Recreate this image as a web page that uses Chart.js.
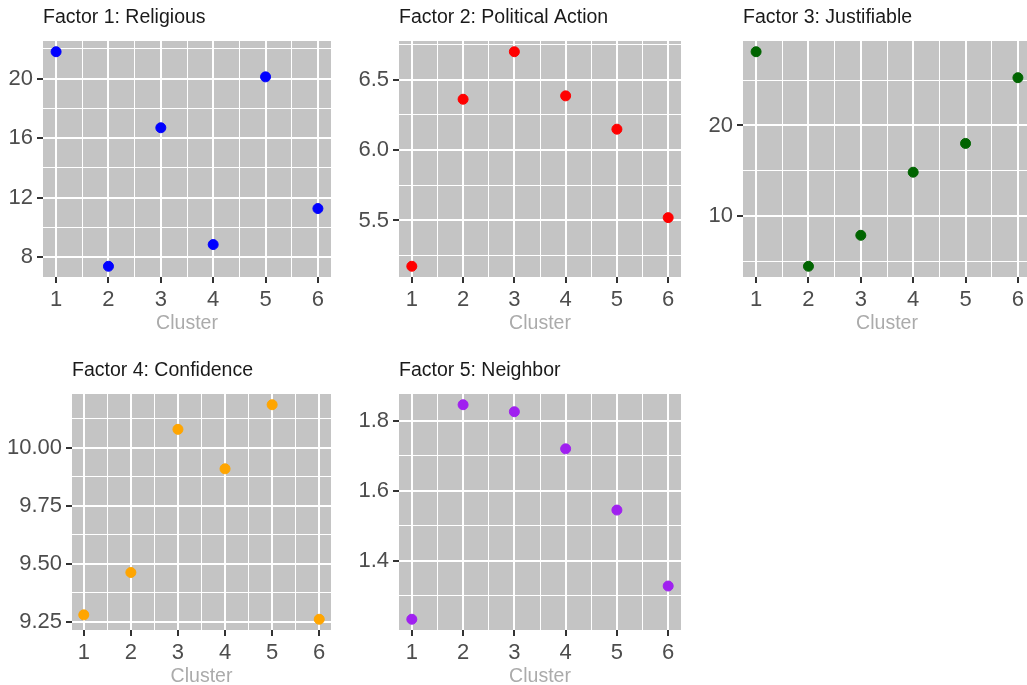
<!DOCTYPE html>
<html>
<head>
<meta charset="utf-8">
<script src="https://cdn.jsdelivr.net/npm/chart.js@4"></script>
<style>
  html, body { margin: 0; padding: 0; background: #fff; overflow: hidden; }
  #wrap { position: relative; width: 1027px; height: 685px; overflow: hidden; }
  #wrap canvas { position: absolute; }
</style>
</head>
<body>
<div id="wrap"></div>
<script>
// valores
const clusters = [1, 2, 3, 4, 5, 6];
const religious = [21.8, 7.38, 16.69, 8.84, 20.11, 11.26];
const politicalAction = [5.174, 6.362, 6.70, 6.386, 6.149, 5.52];
const justifiable = [28.12, 4.49, 7.9, 14.85, 18.02, 25.26];
const confidence = [9.28, 9.4625, 10.079, 9.909, 10.185, 9.261];
const neighbor = [1.233, 1.846, 1.826, 1.72, 1.545, 1.328];

// etiquetas de los ejes
const xLabels = ["1", "2", "3", "4", "5", "6"];
const religiousLabels = ["8", "12", "16", "20"];
const politicalLabels = ["5.5", "6.0", "6.5"];
const justifiableLabels = ["10", "20"];
const confidenceLabels = ["9.25", "9.50", "9.75", "10.00"];
const neighborLabels = ["1.4", "1.6", "1.8"];

const panelTitles = ["Factor 1: Religious", "Factor 2: Political Action", "Factor 3: Justifiable", "Factor 4: Confidence", "Factor 5: Neighbor"];
const panelColors = ["#0000ff", "#ff0000", "#006400", "#ffa500", "#a020f0"];
const panelValues = [religious, politicalAction, justifiable, confidence, neighbor];
const panelLabels = [religiousLabels, politicalLabels, justifiableLabels, confidenceLabels, neighborLabels];

// posicion de cada panel: columna x, y area del grafico [izq, arriba, der, abajo]
const layout = [
    { cellX: 0,   plot: [43, 41, 331, 277] },
    { cellX: 340, plot: [399, 41, 681, 277] },
    { cellX: 685, plot: [743, 41, 1031, 277] },
    { cellX: 0,   plot: [72, 394, 331, 630] },
    { cellX: 340, plot: [399, 394, 681, 630] }
];

const FONT = "'Liberation Sans', Arial, sans-serif";
const TITLE_H = 41;
const XAXIS_H = 63;
const RIGHT_PAD = 12;

// rango con 5% de expansion, como ggplot
function expand(lo, hi) {
    const d = (hi - lo) * 0.05;
    return [lo - d, hi + d];
}

// ticks mayores + menores (punto medio)
function withMinor(majors, min, max) {
    const step = majors.length > 1 ? majors[1] - majors[0] : 1;
    const out = [];
    for (let k = -10; k <= 2 * majors.length + 10; k++) {
        const v = Math.round((majors[0] + k * step / 2) * 1e9) / 1e9;
        if (v >= min && v <= max) out.push(v);
    }
    return out;
}

function isMajor(v, majors) {
    return majors.some(m => Math.abs(m - v) < 1e-9);
}

const panelBg = {
    id: "panelBg",
    beforeDraw(chart) {
        const { ctx, chartArea: a } = chart;
        ctx.save();
        ctx.fillStyle = "#c4c4c4";
        ctx.fillRect(a.left, a.top, a.right - a.left, a.bottom - a.top);
        ctx.restore();
    }
};

const wrap = document.getElementById("wrap");

panelTitles.forEach((title, i) => {
    const L = layout[i];
    const [pl, pt, pr, pb] = L.plot;
    const canvas = document.createElement("canvas");
    const w = pr - L.cellX + RIGHT_PAD;
    const h = pb - pt + TITLE_H + XAXIS_H;
    canvas.width = w;
    canvas.height = h;
    canvas.style.left = L.cellX + "px";
    canvas.style.top = (pt - TITLE_H) + "px";
    canvas.style.width = w + "px";
    canvas.style.height = h + "px";
    wrap.appendChild(canvas);

    const values = panelValues[i];
    const yMajors = panelLabels[i].map(parseFloat);
    const [yMin, yMax] = expand(Math.min(...values), Math.max(...values));
    const [xMin, xMax] = expand(Math.min(...clusters), Math.max(...clusters));
    const xMajors = xLabels.map(parseFloat);
    const yTicks = withMinor(yMajors, yMin, yMax);
    const xTicks = withMinor(xMajors, xMin, xMax);

    const labelFor = (v, majors, labels) => {
        const idx = majors.findIndex(m => Math.abs(m - v) < 1e-9);
        return idx >= 0 ? labels[idx] : "";
    };

    new Chart(canvas, {
        type: "scatter",
        data: {
            datasets: [{
                data: clusters.map((c, k) => ({ x: c, y: values[k] })),
                backgroundColor: panelColors[i],
                borderColor: panelColors[i],
                borderWidth: 1,
                pointRadius: 5,
                clip: false
            }]
        },
        options: {
            responsive: false,
            devicePixelRatio: 1,
            animation: false,
            layout: { padding: { left: 0, right: RIGHT_PAD, top: 0, bottom: 0 } },
            plugins: {
                legend: { display: false },
                tooltip: { enabled: false },
                title: {
                    display: true,
                    text: title,
                    align: "start",
                    fullSize: false,
                    color: "#1a1a1a",
                    font: { family: FONT, size: 19.5, weight: "normal" },
                    padding: { top: 6, bottom: TITLE_H - 6 - 19.5 * 1.2 }
                }
            },
            scales: {
                x: {
                    type: "linear",
                    min: xMin,
                    max: xMax,
                    afterBuildTicks: axis => { axis.ticks = xTicks.map(v => ({ value: v })); },
                    afterFit: axis => { axis.height = XAXIS_H; },
                    border: { display: false },
                    grid: {
                        color: "#ffffff",
                        lineWidth: c => isMajor(c.tick.value, xMajors) ? 2 : 1,
                        tickLength: 6,
                        tickWidth: 2,
                        tickColor: c => isMajor(c.tick.value, xMajors) ? "#333333" : "rgba(0,0,0,0)"
                    },
                    ticks: {
                        autoSkip: false,
                        maxRotation: 0,
                        padding: 4,
                        color: "#4d4d4d",
                        font: { family: FONT, size: 22 },
                        callback: v => labelFor(v, xMajors, xLabels)
                    },
                    title: {
                        display: true,
                        text: "Cluster",
                        color: "#ababab",
                        font: { family: FONT, size: 19.5 },
                        padding: { top: 0, bottom: 5 }
                    }
                },
                y: {
                    type: "linear",
                    min: yMin,
                    max: yMax,
                    afterBuildTicks: axis => { axis.ticks = yTicks.map(v => ({ value: v })); },
                    afterFit: axis => { axis.width = pl - L.cellX; },
                    border: { display: false },
                    grid: {
                        color: "#ffffff",
                        lineWidth: c => isMajor(c.tick.value, yMajors) ? 2 : 1,
                        tickLength: 6,
                        tickWidth: 2,
                        tickColor: c => isMajor(c.tick.value, yMajors) ? "#333333" : "rgba(0,0,0,0)"
                    },
                    ticks: {
                        autoSkip: false,
                        padding: 4,
                        color: "#4d4d4d",
                        font: { family: FONT, size: 22 },
                        callback: v => labelFor(v, yMajors, panelLabels[i])
                    }
                }
            }
        },
        plugins: [panelBg]
    });
});
</script>
</body>
</html>
